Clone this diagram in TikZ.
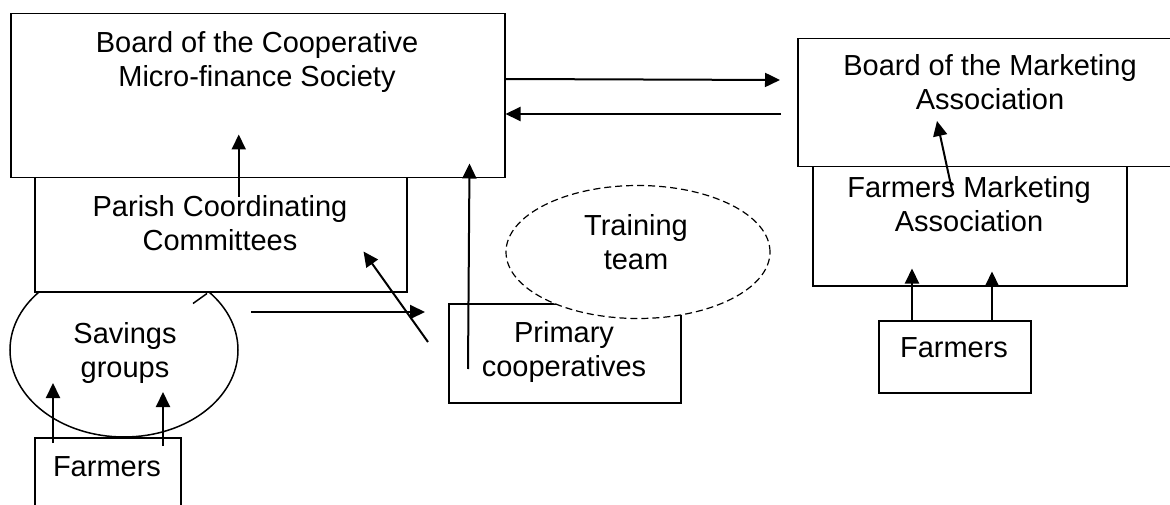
\documentclass[tikz,border=0pt]{standalone}
\usepackage{fontspec}
\setmainfont{Liberation Sans}
\usetikzlibrary{shapes.geometric,arrows.meta}
\begin{document}
\begin{tikzpicture}[x=1pt,y=-1pt,
  box/.style={draw,fill=white,line width=1.5pt,inner sep=0pt,anchor=north west},
  txt/.style={anchor=north,inner sep=0pt,align=center,font=\fontsize{29}{34.5}\selectfont},
  arr/.style={line width=2pt,-{Triangle[length=15pt,width=14pt]}},
  oval/.style={ellipse,draw,fill=white,inner sep=0pt,line width=1.5pt}]
\useasboundingbox (0,0) rectangle (1170,505);
\begin{scope}
\clip (0,0) rectangle (1170,505);
% left column
\node[box,minimum width=494pt,minimum height=164pt] (bcoop) at (10,13) {};
\node[oval,minimum width=228pt,minimum height=174pt] (sav) at (124,350) {};
\node[box,minimum width=372pt,minimum height=114pt] (par) at (34,177) {};
\node[box,minimum width=146pt,minimum height=100pt] (farmL) at (34,437) {};
% middle
\node[box,minimum width=232pt,minimum height=99pt] (prim) at (448,303) {};
\node[oval,dashed,dash pattern=on 7pt off 4pt,line width=1.2pt,minimum width=264pt,minimum height=133pt] (train) at (638,252) {};
% right column
\node[box,minimum width=386pt,minimum height=128pt] (bmkt) at (797,38) {};
\node[box,minimum width=314pt,minimum height=119pt] (fma) at (812,166) {};
\node[box,minimum width=152pt,minimum height=72pt] (farmR) at (878,320) {};
\end{scope}
% texts
\node[txt] (tbcoop) at (257,31) {Board of the Cooperative\\Micro-finance Society};
\node[txt] (tpar) at (220,195) {Parish Coordinating\\Committees};
\node[txt] (tsav) at (125,322) {Savings\\groups};
\node[txt] (tfarmL) at (107,456) {Farmers};
\node[txt] (tprim) at (564,321) {Primary\\cooperatives};
\node[txt] (ttrain) at (636,214) {Training\\team};
\node[txt] (tbmkt) at (990,54) {Board of the Marketing\\Association};
\node[txt] (tfma) at (969,176) {Farmers Marketing\\Association};
\node[txt] (tfarmR) at (954,337) {Farmers};
% connectors
\draw[arr] ([xshift=19pt,yshift=-6pt]farmL.north west) -- ([xshift=-71pt,yshift=-33pt]sav.center);
\draw[arr] ([xshift=129pt,yshift=-9pt]farmL.north west) -- ([xshift=39pt,yshift=-42pt]sav.center);
\draw[arr] ([xshift=127pt,yshift=38pt]sav.center) -- ([xshift=-23pt,yshift=-9pt]prim.north west);
\draw[arr] ([xshift=-20pt,yshift=-39pt]prim.north west) -- ([xshift=-44pt,yshift=41pt]par.south east);
\draw[arr] ([xshift=20pt,yshift=-66pt]prim.north west) -- ([xshift=-36pt,yshift=15pt]bcoop.south east);
\draw[arr] ([xshift=18pt,yshift=-20pt]par.north) -- ([xshift=-19pt,yshift=44pt]bcoop.south);
\draw[line width=1.5pt] ([xshift=159pt,yshift=-11pt]par.south west) -- ([xshift=173pt,yshift=-1pt]par.south west);
\draw[arr] ([yshift=-66pt]bcoop.north east) -- ([xshift=-17pt,yshift=-42pt]bmkt.north west);
\draw[arr] ([xshift=-16pt,yshift=-76pt]bmkt.north west) -- ([yshift=-101pt]bcoop.north east);
\draw[arr] ([xshift=34pt]farmR.north west) -- ([xshift=100pt,yshift=18pt]fma.south west);
\draw[arr] ([xshift=114pt]farmR.north west) -- ([xshift=180pt,yshift=15pt]fma.south west);
\draw[arr] ([xshift=140pt,yshift=-24pt]fma.north west) -- ([xshift=140pt,yshift=-83pt]bmkt.north west);
\end{tikzpicture}
\end{document}
